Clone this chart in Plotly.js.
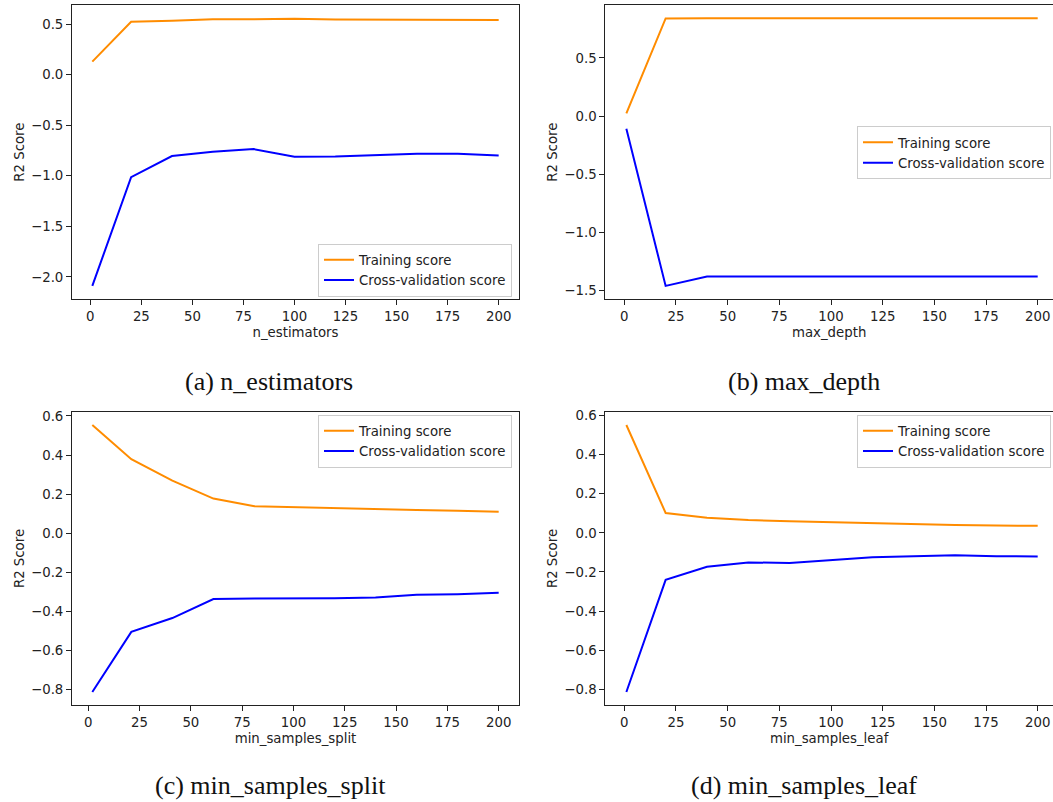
<!DOCTYPE html>
<html>
<head>
<meta charset="utf-8">
<script src="https://cdn.plot.ly/plotly-3.0.1.min.js"></script>
<style>html,body{margin:0;padding:0;background:#fff;}#chart{width:1053px;height:802px;}</style>
</head>
<body>
<div id="chart"></div>
<script>
// ---- data ----
const xEstimators = [1, 20, 40, 60, 80, 100, 120, 140, 160, 180, 200];
const trainEstimators = [0.128, 0.523, 0.533, 0.546, 0.547, 0.553, 0.545, 0.544, 0.541, 0.540, 0.540];
const cvEstimators = [-2.09, -1.014, -0.806, -0.763, -0.737, -0.813, -0.810, -0.800, -0.783, -0.783, -0.800];

const xDepth = [1, 20, 40, 60, 80, 100, 120, 140, 160, 180, 200];
const trainDepth = [0.023, 0.840, 0.841, 0.841, 0.841, 0.841, 0.841, 0.841, 0.841, 0.841, 0.841];
const cvDepth = [-0.109, -1.460, -1.380, -1.380, -1.380, -1.380, -1.380, -1.380, -1.380, -1.380, -1.380];

const xSplit = [2, 21, 41, 61, 81, 101, 120, 140, 160, 180, 200];
const trainSplit = [0.554, 0.379, 0.269, 0.177, 0.138, 0.134, 0.129, 0.124, 0.119, 0.114, 0.109];
const cvSplit = [-0.814, -0.506, -0.435, -0.338, -0.335, -0.335, -0.333, -0.330, -0.316, -0.313, -0.306];

const xLeaf = [1, 20, 40, 60, 80, 100, 120, 140, 160, 180, 200];
const trainLeaf = [0.552, 0.102, 0.078, 0.066, 0.059, 0.054, 0.048, 0.043, 0.040, 0.038, 0.036];
const cvLeaf = [-0.814, -0.240, -0.173, -0.151, -0.154, -0.139, -0.125, -0.119, -0.115, -0.119, -0.121];

const seriesNames = ['Training score', 'Cross-validation score'];
const paramNames = ['n_estimators', 'max_depth', 'min_samples_split', 'min_samples_leaf'];
const captions = ['(a) n_estimators', '(b) max_depth', '(c) min_samples_split', '(d) min_samples_leaf'];

// ---- styling ----
const W = 1053, H = 802;
const ORANGE = '#ff8c00', BLUE = '#0000ff';
const tickFont = {family: 'DejaVu Sans', size: 13.3, color: '#222'};

const panels = [
  {x: xEstimators, tr: trainEstimators, cv: cvEstimators, xa: 'x', ya: 'y', lg: 'legend'},
  {x: xDepth, tr: trainDepth, cv: cvDepth, xa: 'x2', ya: 'y2', lg: 'legend2'},
  {x: xSplit, tr: trainSplit, cv: cvSplit, xa: 'x3', ya: 'y3', lg: 'legend3'},
  {x: xLeaf, tr: trainLeaf, cv: cvLeaf, xa: 'x4', ya: 'y4', lg: 'legend4'}
];

const traces = [];
panels.forEach(p => {
  traces.push({x: p.x, y: p.tr, xaxis: p.xa, yaxis: p.ya, legend: p.lg, type: 'scatter', mode: 'lines',
    name: seriesNames[0], line: {color: ORANGE, width: 2}});
  traces.push({x: p.x, y: p.cv, xaxis: p.xa, yaxis: p.ya, legend: p.lg, type: 'scatter', mode: 'lines',
    name: seriesNames[1], line: {color: BLUE, width: 2}});
});

function px2x(px) { return px / W; }
function px2y(py) { return 1 - py / H; }

function xAxis(domain, range, title, anchor) {
  return {domain: domain, range: range, anchor: anchor, tick0: 0, dtick: 25,
    showgrid: false, zeroline: false, showline: true, linecolor: '#222', linewidth: 1, mirror: true,
    ticks: 'outside', ticklen: 5, tickcolor: '#222', tickwidth: 1, tickfont: tickFont,
    title: {text: title, font: tickFont, standoff: 4}};
}
function yAxis(domain, range, dtick, anchor, mirror) {
  return {domain: domain, range: range, anchor: anchor, tick0: 0, dtick: dtick, tickformat: '.1f',
    showgrid: false, zeroline: false, showline: true, linecolor: '#222', linewidth: 1, mirror: mirror,
    ticks: 'outside', ticklen: 5, tickcolor: '#222', tickwidth: 1, tickfont: tickFont,
    title: {text: 'R2 Score', font: tickFont, standoff: 3}};
}

const leftDom = [px2x(72), px2x(519)];
const rightDom = [px2x(605.3), 1];
const topDom = [px2y(299.3), px2y(5)];
const botDom = [px2y(705.3), px2y(411.7)];

const legendBase = {bgcolor: 'rgba(255,255,255,0.8)', bordercolor: '#cccccc', borderwidth: 1,
  font: {family: 'DejaVu Sans', size: 13.3, color: '#222'}, tracegroupgap: 0};

const capFont = {family: 'Liberation Serif', size: 26, color: '#111'};

const layout = {
  width: W, height: H,
  margin: {l: 0, r: 0, t: 0, b: 0},
  paper_bgcolor: '#fff', plot_bgcolor: '#fff',
  showlegend: true,
  xaxis: xAxis(leftDom, [-8.95, 209.95], paramNames[0], 'y'),
  yaxis: yAxis(topDom, [-2.222, 0.688], 0.5, 'x', true),
  xaxis2: xAxis(rightDom, [-9.19, 207.4], paramNames[1], 'y2'),
  yaxis2: yAxis(topDom, [-1.575, 0.955], 0.5, 'x2', false),
  xaxis3: xAxis(leftDom, [-7.9, 209.9], paramNames[2], 'y3'),
  yaxis3: yAxis(botDom, [-0.882, 0.622], 0.2, 'x3', true),
  xaxis4: xAxis(rightDom, [-9.19, 207.4], paramNames[3], 'y4'),
  yaxis4: yAxis(botDom, [-0.882, 0.620], 0.2, 'x4', false),
  legend: Object.assign({}, legendBase, {x: px2x(512), xanchor: 'right', y: px2y(296.5), yanchor: 'bottom'}),
  legend2: Object.assign({}, legendBase, {x: px2x(1051), xanchor: 'right', y: px2y(152.7), yanchor: 'middle'}),
  legend3: Object.assign({}, legendBase, {x: px2x(512), xanchor: 'right', y: px2y(414.5), yanchor: 'top'}),
  legend4: Object.assign({}, legendBase, {x: px2x(1051), xanchor: 'right', y: px2y(414.5), yanchor: 'top'}),
  annotations: [
    {text: captions[0], x: px2x(268.5), y: px2y(381), xref: 'paper', yref: 'paper', showarrow: false, xanchor: 'center', yanchor: 'middle', font: capFont},
    {text: captions[1], x: px2x(804), y: px2y(381), xref: 'paper', yref: 'paper', showarrow: false, xanchor: 'center', yanchor: 'middle', font: capFont},
    {text: captions[2], x: px2x(270), y: px2y(785), xref: 'paper', yref: 'paper', showarrow: false, xanchor: 'center', yanchor: 'middle', font: capFont},
    {text: captions[3], x: px2x(804), y: px2y(785), xref: 'paper', yref: 'paper', showarrow: false, xanchor: 'center', yanchor: 'middle', font: capFont}
  ]
};

Plotly.newPlot('chart', traces, layout, {staticPlot: true, displayModeBar: false});
</script>
</body>
</html>
